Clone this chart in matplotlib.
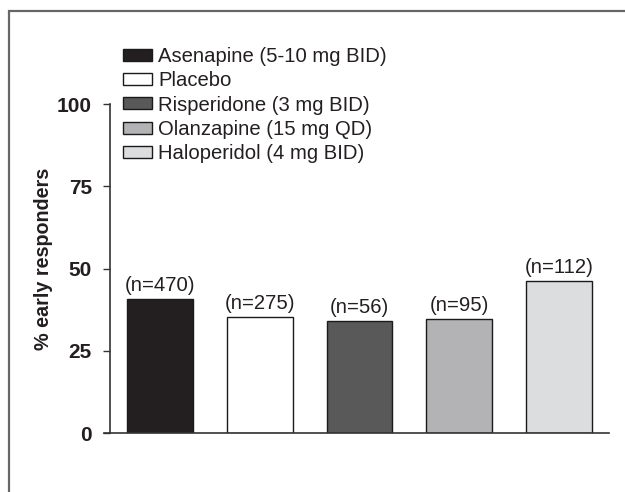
import matplotlib
matplotlib.use("Agg")
import matplotlib.pyplot as plt
from matplotlib.patches import Rectangle, Patch

plt.rcParams['font.family'] = ['Liberation Sans', 'DejaVu Sans']

categories = ["Asenapine (5-10 mg BID)", "Placebo", "Risperidone (3 mg BID)",
              "Olanzapine (15 mg QD)", "Haloperidol (4 mg BID)"]
values = [40.7, 35.3, 34.0, 34.7, 46.3]
n_labels = ["(n=470)", "(n=275)", "(n=56)", "(n=95)", "(n=112)"]
colors = ["#231f20", "#ffffff", "#595959", "#b3b3b5", "#dcdddf"]
yticks = [0, 25, 50, 75, 100]

fig = plt.figure(figsize=(6.25, 4.92), dpi=100)
ax = fig.add_axes([110/625, 1 - 433.3/492, (609 - 110)/625, (433.3 - 104)/492])

x = list(range(len(categories)))
bars = ax.bar(x, values, width=0.66, color=colors, edgecolor="#1a1a1a", linewidth=1.0)

for xi, v, lab in zip(x, values, n_labels):
    ax.annotate(lab, (xi, v), xytext=(0, 3), textcoords="offset points",
                ha="center", va="bottom", fontsize=14.6, color="#231f20")

ax.set_xlim(-0.5, 4.5)
ax.set_ylim(0, 100)
ax.set_yticks(yticks)
ax.set_yticklabels([str(t) for t in yticks], fontweight="bold", fontsize=15, color="#231f20")
ax.set_xticks([])
ax.tick_params(axis="y", direction="out", length=5, width=1, color="#333333", pad=8)
for s in ["top", "right"]:
    ax.spines[s].set_visible(False)
for s in ["left", "bottom"]:
    ax.spines[s].set_color("#333333")
    ax.spines[s].set_linewidth(1.2)
ax.spines["bottom"].set_bounds(-0.56, 4.5)

ax.set_ylabel("% early responders", fontweight="bold", fontsize=14.2, color="#231f20", labelpad=3)
ax.yaxis.set_label_coords(-0.115, 0.531)

handles = [Patch(facecolor=c, edgecolor="#1a1a1a", linewidth=1.0) for c in colors]
leg = fig.legend(handles, categories, loc="upper left",
                 bbox_to_anchor=(123/625, 1 - 47/492), frameon=False, fontsize=14.6,
                 handlelength=1.45, handleheight=0.55, handletextpad=0.3,
                 labelspacing=0.26, borderaxespad=0, borderpad=0)
for t in leg.get_texts():
    t.set_color("#231f20")

# figure frame (left and top visible, others cropped)
fig.patches.append(Rectangle((8.5/625, -0.1), 1.2, 1.1 - 11/492,
                             transform=fig.transFigure, fill=False,
                             edgecolor="#666666", linewidth=1.6))

fig.savefig("out.png", dpi=100)
